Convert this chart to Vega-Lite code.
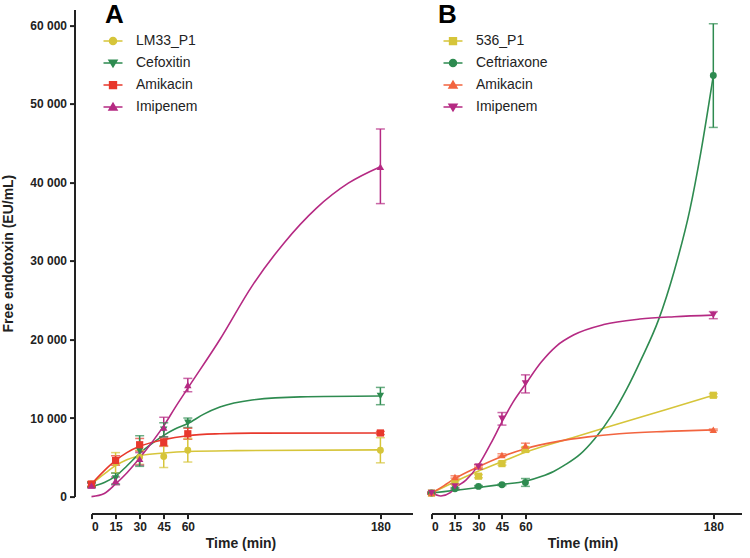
{
  "$schema": "https://vega.github.io/schema/vega-lite/v6.json",
  "background": "white",
  "padding": {"left": 0.5, "top": 1.6, "right": 0, "bottom": 0},
  "config": {
    "view": {"stroke": null},
    "font": "Liberation Sans",
    "locale": {"number": {"decimal": ".", "thousands": " ", "grouping": [3], "currency": ["", ""]}},
    "axis": {
      "grid": false, "domainColor": "#222", "domainWidth": 2, "tickColor": "#222", "tickWidth": 2, "tickSize": 5,
      "labelFont": "Liberation Sans", "labelFontWeight": "bold", "labelFontSize": 12, "labelColor": "#222",
      "titleFont": "Liberation Sans", "titleFontWeight": "bold", "titleColor": "#222"
    },
    "legend": {"padding": 0}
  },
  "datasets": {
    "ptsA": [
      {"s": "LM33_P1", "t": 0, "v": 1600, "lo": 1300, "hi": 1900},
      {"s": "LM33_P1", "t": 15, "v": 4300, "lo": 3000, "hi": 5600},
      {"s": "LM33_P1", "t": 30, "v": 5000, "lo": 4100, "hi": 5900},
      {"s": "LM33_P1", "t": 45, "v": 5100, "lo": 3700, "hi": 6500},
      {"s": "LM33_P1", "t": 60, "v": 5900, "lo": 4400, "hi": 7400},
      {"s": "LM33_P1", "t": 180, "v": 5900, "lo": 4300, "hi": 7500},
      {"s": "Imipenem", "t": 0, "v": 1400, "lo": 1100, "hi": 1700},
      {"s": "Imipenem", "t": 15, "v": 2000, "lo": 1500, "hi": 2500},
      {"s": "Imipenem", "t": 30, "v": 4800, "lo": 4000, "hi": 5600},
      {"s": "Imipenem", "t": 45, "v": 8800, "lo": 7600, "hi": 10100},
      {"s": "Imipenem", "t": 60, "v": 14200, "lo": 13350, "hi": 15050},
      {"s": "Imipenem", "t": 180, "v": 42000, "lo": 37300, "hi": 46800},
      {"s": "Amikacin", "t": 0, "v": 1600, "lo": 1300, "hi": 1900},
      {"s": "Amikacin", "t": 15, "v": 4600, "lo": 4000, "hi": 5200},
      {"s": "Amikacin", "t": 30, "v": 6600, "lo": 5800, "hi": 7400},
      {"s": "Amikacin", "t": 45, "v": 6900, "lo": 6400, "hi": 7400},
      {"s": "Amikacin", "t": 60, "v": 8000, "lo": 7300, "hi": 8700},
      {"s": "Amikacin", "t": 180, "v": 8100, "lo": 7900, "hi": 8300},
      {"s": "Cefoxitin", "t": 0, "v": 1500, "lo": 1200, "hi": 1800},
      {"s": "Cefoxitin", "t": 15, "v": 2300, "lo": 1600, "hi": 3000},
      {"s": "Cefoxitin", "t": 30, "v": 5800, "lo": 3850, "hi": 7750},
      {"s": "Cefoxitin", "t": 45, "v": 8500, "lo": 7600, "hi": 9400},
      {"s": "Cefoxitin", "t": 60, "v": 9400, "lo": 8800, "hi": 10000},
      {"s": "Cefoxitin", "t": 180, "v": 12800, "lo": 11700, "hi": 13900}
    ],
    "curA": [
      {"s": "LM33_P1", "t": 0, "v": 1600}, {"s": "LM33_P1", "t": 8, "v": 2900}, {"s": "LM33_P1", "t": 15, "v": 3950},
      {"s": "LM33_P1", "t": 22, "v": 4700}, {"s": "LM33_P1", "t": 30, "v": 5200}, {"s": "LM33_P1", "t": 45, "v": 5550},
      {"s": "LM33_P1", "t": 60, "v": 5750}, {"s": "LM33_P1", "t": 90, "v": 5850}, {"s": "LM33_P1", "t": 180, "v": 5950},
      {"s": "Cefoxitin", "t": 0, "v": 1300}, {"s": "Cefoxitin", "t": 8, "v": 1800}, {"s": "Cefoxitin", "t": 15, "v": 2600},
      {"s": "Cefoxitin", "t": 22, "v": 3900}, {"s": "Cefoxitin", "t": 30, "v": 5500}, {"s": "Cefoxitin", "t": 38, "v": 6800},
      {"s": "Cefoxitin", "t": 45, "v": 7800}, {"s": "Cefoxitin", "t": 52, "v": 8600}, {"s": "Cefoxitin", "t": 60, "v": 9300},
      {"s": "Cefoxitin", "t": 70, "v": 10500}, {"s": "Cefoxitin", "t": 80, "v": 11400}, {"s": "Cefoxitin", "t": 100, "v": 12300},
      {"s": "Cefoxitin", "t": 130, "v": 12700}, {"s": "Cefoxitin", "t": 180, "v": 12800},
      {"s": "Amikacin", "t": 0, "v": 1600}, {"s": "Amikacin", "t": 8, "v": 3300}, {"s": "Amikacin", "t": 15, "v": 4600},
      {"s": "Amikacin", "t": 22, "v": 5600}, {"s": "Amikacin", "t": 30, "v": 6400}, {"s": "Amikacin", "t": 45, "v": 7250},
      {"s": "Amikacin", "t": 60, "v": 7750}, {"s": "Amikacin", "t": 80, "v": 8000}, {"s": "Amikacin", "t": 100, "v": 8080},
      {"s": "Amikacin", "t": 180, "v": 8100},
      {"s": "Imipenem", "t": 0, "v": 0}, {"s": "Imipenem", "t": 8, "v": 400}, {"s": "Imipenem", "t": 15, "v": 1600},
      {"s": "Imipenem", "t": 22, "v": 3000}, {"s": "Imipenem", "t": 30, "v": 4900}, {"s": "Imipenem", "t": 38, "v": 7000},
      {"s": "Imipenem", "t": 45, "v": 9000}, {"s": "Imipenem", "t": 52, "v": 11300}, {"s": "Imipenem", "t": 60, "v": 13800},
      {"s": "Imipenem", "t": 80, "v": 20000}, {"s": "Imipenem", "t": 100, "v": 26800}, {"s": "Imipenem", "t": 120, "v": 32300},
      {"s": "Imipenem", "t": 140, "v": 36700}, {"s": "Imipenem", "t": 160, "v": 39900}, {"s": "Imipenem", "t": 180, "v": 42000}
    ],
    "ptsB": [
      {"s": "536_P1", "t": 0, "v": 450, "lo": 350, "hi": 550},
      {"s": "536_P1", "t": 15, "v": 1800, "lo": 1600, "hi": 2000},
      {"s": "536_P1", "t": 30, "v": 2600, "lo": 2400, "hi": 2800},
      {"s": "536_P1", "t": 45, "v": 4200, "lo": 4000, "hi": 4400},
      {"s": "536_P1", "t": 60, "v": 6000, "lo": 5700, "hi": 6300},
      {"s": "536_P1", "t": 180, "v": 12900, "lo": 12700, "hi": 13100},
      {"s": "Ceftriaxone", "t": 0, "v": 450, "lo": 350, "hi": 550},
      {"s": "Ceftriaxone", "t": 15, "v": 1000, "lo": 850, "hi": 1150},
      {"s": "Ceftriaxone", "t": 30, "v": 1300, "lo": 1200, "hi": 1400},
      {"s": "Ceftriaxone", "t": 45, "v": 1500, "lo": 1400, "hi": 1600},
      {"s": "Ceftriaxone", "t": 60, "v": 1800, "lo": 1300, "hi": 2300},
      {"s": "Ceftriaxone", "t": 180, "v": 53600, "lo": 47000, "hi": 60200},
      {"s": "Amikacin", "t": 0, "v": 450, "lo": 350, "hi": 550},
      {"s": "Amikacin", "t": 15, "v": 2500, "lo": 2350, "hi": 2650},
      {"s": "Amikacin", "t": 30, "v": 3900, "lo": 3750, "hi": 4050},
      {"s": "Amikacin", "t": 45, "v": 5300, "lo": 5150, "hi": 5450},
      {"s": "Amikacin", "t": 60, "v": 6500, "lo": 6200, "hi": 6800},
      {"s": "Amikacin", "t": 180, "v": 8500, "lo": 8400, "hi": 8600},
      {"s": "Imipenem", "t": 0, "v": 450, "lo": 350, "hi": 550},
      {"s": "Imipenem", "t": 15, "v": 1300, "lo": 1000, "hi": 1600},
      {"s": "Imipenem", "t": 30, "v": 3800, "lo": 3500, "hi": 4100},
      {"s": "Imipenem", "t": 45, "v": 9900, "lo": 9100, "hi": 10700},
      {"s": "Imipenem", "t": 60, "v": 14400, "lo": 13200, "hi": 15500},
      {"s": "Imipenem", "t": 180, "v": 23100, "lo": 22650, "hi": 23550}
    ],
    "curB": [
      {"s": "536_P1", "t": 0, "v": 450}, {"s": "536_P1", "t": 15, "v": 1900}, {"s": "536_P1", "t": 30, "v": 3250},
      {"s": "536_P1", "t": 45, "v": 4450}, {"s": "536_P1", "t": 60, "v": 5650}, {"s": "536_P1", "t": 90, "v": 7500},
      {"s": "536_P1", "t": 120, "v": 9300}, {"s": "536_P1", "t": 150, "v": 11100}, {"s": "536_P1", "t": 180, "v": 12900},
      {"s": "Ceftriaxone", "t": 0, "v": 450}, {"s": "Ceftriaxone", "t": 15, "v": 800}, {"s": "Ceftriaxone", "t": 30, "v": 1150},
      {"s": "Ceftriaxone", "t": 45, "v": 1550}, {"s": "Ceftriaxone", "t": 60, "v": 1950}, {"s": "Ceftriaxone", "t": 70, "v": 2550},
      {"s": "Ceftriaxone", "t": 78, "v": 3200}, {"s": "Ceftriaxone", "t": 85, "v": 4000}, {"s": "Ceftriaxone", "t": 95, "v": 5400},
      {"s": "Ceftriaxone", "t": 104, "v": 7300}, {"s": "Ceftriaxone", "t": 115, "v": 10300}, {"s": "Ceftriaxone", "t": 125, "v": 13800},
      {"s": "Ceftriaxone", "t": 134, "v": 17500}, {"s": "Ceftriaxone", "t": 145, "v": 22500}, {"s": "Ceftriaxone", "t": 155, "v": 28700},
      {"s": "Ceftriaxone", "t": 165, "v": 36500}, {"s": "Ceftriaxone", "t": 172, "v": 43800}, {"s": "Ceftriaxone", "t": 180, "v": 53600},
      {"s": "Amikacin", "t": 0, "v": 450}, {"s": "Amikacin", "t": 8, "v": 1400}, {"s": "Amikacin", "t": 15, "v": 2300},
      {"s": "Amikacin", "t": 30, "v": 3800}, {"s": "Amikacin", "t": 45, "v": 5100}, {"s": "Amikacin", "t": 60, "v": 6100},
      {"s": "Amikacin", "t": 80, "v": 7000}, {"s": "Amikacin", "t": 100, "v": 7600}, {"s": "Amikacin", "t": 120, "v": 8000},
      {"s": "Amikacin", "t": 150, "v": 8300}, {"s": "Amikacin", "t": 180, "v": 8500},
      {"s": "Imipenem", "t": 0, "v": 450}, {"s": "Imipenem", "t": 6, "v": 80}, {"s": "Imipenem", "t": 12, "v": 500},
      {"s": "Imipenem", "t": 15, "v": 1100}, {"s": "Imipenem", "t": 22, "v": 2100}, {"s": "Imipenem", "t": 30, "v": 4000},
      {"s": "Imipenem", "t": 38, "v": 6800}, {"s": "Imipenem", "t": 45, "v": 9500}, {"s": "Imipenem", "t": 52, "v": 12000},
      {"s": "Imipenem", "t": 60, "v": 14300}, {"s": "Imipenem", "t": 70, "v": 17100}, {"s": "Imipenem", "t": 80, "v": 19200},
      {"s": "Imipenem", "t": 91, "v": 20600}, {"s": "Imipenem", "t": 110, "v": 21900}, {"s": "Imipenem", "t": 133, "v": 22600},
      {"s": "Imipenem", "t": 155, "v": 22900}, {"s": "Imipenem", "t": 180, "v": 23100}
    ]
  },
  "spacing": 14,
  "resolve": {"scale": {"color": "independent", "x": "independent", "y": "independent"}, "legend": {"color": "independent"}},
  "hconcat": [
    {
      "width": 321,
      "height": 487,
      "resolve": {"axis": {"x": "independent"}},
      "encoding": {
        "color": {"field": "s", "type": "nominal",
          "scale": {"domain": ["LM33_P1", "Cefoxitin", "Amikacin", "Imipenem"], "range": ["#d6c53a", "#2e8b50", "#e8382c", "#b52a83"]},
          "legend": {"orient": "none", "legendX": 11, "legendY": 21, "title": null, "symbolSize": 361, "labelFontSize": 14, "labelFont": "Liberation Sans", "labelColor": "#222", "rowPadding": 4, "labelOffset": 12.5, "symbolStrokeWidth": 1.5,
            "encode": {"symbols": {"update": {
              "shape": {"signal": "datum.value === 'LM33_P1' ? 'M-1,0H1M0.37,0A0.37,0.37,0,1,1,-0.37,0A0.37,0.37,0,1,1,0.37,0Z' : datum.value === 'Cefoxitin' ? 'M-1,0H1M-0.42,-0.3L0.42,-0.3L0,0.4Z' : datum.value === 'Amikacin' ? 'M-1,0H1M-0.36,-0.36H0.36V0.36H-0.36Z' : 'M-1,0H1M-0.42,0.3L0.42,0.3L0,-0.4Z'"},
              "fill": {"signal": "datum.value === 'LM33_P1' ? '#d6c53a' : datum.value === 'Cefoxitin' ? '#2e8b50' : datum.value === 'Amikacin' ? '#e8382c' : '#b52a83'"},
              "stroke": {"signal": "datum.value === 'LM33_P1' ? '#d6c53a' : datum.value === 'Cefoxitin' ? '#2e8b50' : datum.value === 'Amikacin' ? '#e8382c' : '#b52a83'"},
              "strokeWidth": {"value": 1.5},
              "opacity": {"value": 1}
            }}}}}
      },
      "layer": [
        {
          "encoding": {
            "x": {"field": "t", "type": "quantitative", "title": "Time (min)", "scale": {"domain": [0, 200], "nice": false, "zero": false},
              "axis": {"orient": "bottom", "values": [0, 15, 30, 45, 60, 180], "offset": 17, "titleFontSize": 14, "labelPadding": 3, "titlePadding": 4, "titleX": 149}}
          },
          "layer": [
            {"data": {"name": "curA"}, "mark": {"type": "line", "interpolate": "monotone", "strokeWidth": 1.6},
              "encoding": {"y": {"field": "v", "type": "quantitative", "title": "Free endotoxin (EU/mL)", "scale": {"domain": [0, 62000], "nice": false},
                "axis": {"values": [0, 10000, 20000, 30000, 40000, 50000, 60000], "format": ",d", "offset": 17, "titleFontSize": 14, "labelPadding": 3, "titlePadding": 14.5}},
                "detail": {"field": "s"}}},
            {"data": {"name": "ptsA"}, "mark": {"type": "errorbar", "ticks": {"size": 9, "thickness": 1.5}, "thickness": 1.5},
              "encoding": {"y": {"field": "lo", "type": "quantitative", "title": "Free endotoxin (EU/mL)"}, "y2": {"field": "hi"}}},
            {"data": {"name": "ptsA"}, "transform": [{"filter": "datum.s === 'LM33_P1'"}], "mark": {"type": "point", "shape": "circle", "filled": true, "opacity": 1, "size": 48},
              "encoding": {"y": {"field": "v", "type": "quantitative", "title": "Free endotoxin (EU/mL)"}}},
            {"data": {"name": "ptsA"}, "transform": [{"filter": "datum.s === 'Cefoxitin'"}], "mark": {"type": "point", "shape": "triangle-down", "filled": true, "opacity": 1, "size": 55},
              "encoding": {"y": {"field": "v", "type": "quantitative", "title": "Free endotoxin (EU/mL)"}}},
            {"data": {"name": "ptsA"}, "transform": [{"filter": "datum.s === 'Amikacin'"}], "mark": {"type": "point", "shape": "square", "filled": true, "opacity": 1, "size": 52},
              "encoding": {"y": {"field": "v", "type": "quantitative", "title": "Free endotoxin (EU/mL)"}}}
          ]
        },
        {"data": {"name": "ptsA"}, "transform": [{"filter": "datum.s === 'Imipenem'"}], "mark": {"type": "point", "shape": "triangle-up", "filled": true, "opacity": 1, "size": 55},
          "encoding": {"y": {"field": "v", "type": "quantitative", "title": "Free endotoxin (EU/mL)"},
            "x": {"field": "t", "type": "quantitative", "title": "A",
              "axis": {"orient": "top", "domain": false, "ticks": false, "labels": false, "titleFontSize": 26, "titleFont": "Liberation Sans", "titleFontWeight": "bold", "titleColor": "#000", "titleAnchor": "start", "titleAlign": "left", "titleBaseline": "alphabetic", "titleX": 13, "titleY": 13.2}}}}
      ]
    },
    {
      "width": 310,
      "height": 487,
      "resolve": {"axis": {"x": "independent"}},
      "encoding": {
        "color": {"field": "s", "type": "nominal",
          "scale": {"domain": ["536_P1", "Ceftriaxone", "Amikacin", "Imipenem"], "range": ["#d6c53a", "#2e8b50", "#f2643f", "#b52a83"]},
          "legend": {"orient": "none", "legendX": 11, "legendY": 21, "title": null, "symbolSize": 361, "labelFontSize": 14, "labelFont": "Liberation Sans", "labelColor": "#222", "rowPadding": 4, "labelOffset": 12.5, "symbolStrokeWidth": 1.5,
            "encode": {"symbols": {"update": {
              "shape": {"signal": "datum.value === '536_P1' ? 'M-1,0H1M-0.36,-0.36H0.36V0.36H-0.36Z' : datum.value === 'Ceftriaxone' ? 'M-1,0H1M0.37,0A0.37,0.37,0,1,1,-0.37,0A0.37,0.37,0,1,1,0.37,0Z' : datum.value === 'Amikacin' ? 'M-1,0H1M-0.42,0.3L0.42,0.3L0,-0.4Z' : 'M-1,0H1M-0.42,-0.3L0.42,-0.3L0,0.4Z'"},
              "fill": {"signal": "datum.value === '536_P1' ? '#d6c53a' : datum.value === 'Ceftriaxone' ? '#2e8b50' : datum.value === 'Amikacin' ? '#f2643f' : '#b52a83'"},
              "stroke": {"signal": "datum.value === '536_P1' ? '#d6c53a' : datum.value === 'Ceftriaxone' ? '#2e8b50' : datum.value === 'Amikacin' ? '#f2643f' : '#b52a83'"},
              "strokeWidth": {"value": 1.5},
              "opacity": {"value": 1}
            }}}}}
      },
      "layer": [
        {
          "encoding": {
            "x": {"field": "t", "type": "quantitative", "title": "Time (min)", "scale": {"domain": [0, 198], "nice": false, "zero": false},
              "axis": {"orient": "bottom", "values": [0, 15, 30, 45, 60, 180], "offset": 17, "titleFontSize": 14, "labelPadding": 3, "titlePadding": 4, "titleX": 151}}
          },
          "layer": [
            {"data": {"name": "curB"}, "mark": {"type": "line", "interpolate": "monotone", "strokeWidth": 1.6},
              "encoding": {"y": {"field": "v", "type": "quantitative", "scale": {"domain": [0, 62000], "nice": false}, "axis": null},
                "detail": {"field": "s"}}},
            {"data": {"name": "ptsB"}, "mark": {"type": "errorbar", "ticks": {"size": 9, "thickness": 1.5}, "thickness": 1.5},
              "encoding": {"y": {"field": "lo", "type": "quantitative"}, "y2": {"field": "hi"}}},
            {"data": {"name": "ptsB"}, "transform": [{"filter": "datum.s === '536_P1'"}], "mark": {"type": "point", "shape": "square", "filled": true, "opacity": 1, "size": 52},
              "encoding": {"y": {"field": "v", "type": "quantitative"}}},
            {"data": {"name": "ptsB"}, "transform": [{"filter": "datum.s === 'Ceftriaxone'"}], "mark": {"type": "point", "shape": "circle", "filled": true, "opacity": 1, "size": 48},
              "encoding": {"y": {"field": "v", "type": "quantitative"}}},
            {"data": {"name": "ptsB"}, "transform": [{"filter": "datum.s === 'Amikacin'"}], "mark": {"type": "point", "shape": "triangle-up", "filled": true, "opacity": 1, "size": 55},
              "encoding": {"y": {"field": "v", "type": "quantitative"}}}
          ]
        },
        {"data": {"name": "ptsB"}, "transform": [{"filter": "datum.s === 'Imipenem'"}], "mark": {"type": "point", "shape": "triangle-down", "filled": true, "opacity": 1, "size": 55},
          "encoding": {"y": {"field": "v", "type": "quantitative"},
            "x": {"field": "t", "type": "quantitative", "title": "B",
              "axis": {"orient": "top", "domain": false, "ticks": false, "labels": false, "titleFontSize": 26, "titleFont": "Liberation Sans", "titleFontWeight": "bold", "titleColor": "#000", "titleAnchor": "start", "titleAlign": "left", "titleBaseline": "alphabetic", "titleX": 6, "titleY": 13.2}}}}
      ]
    }
  ]
}
